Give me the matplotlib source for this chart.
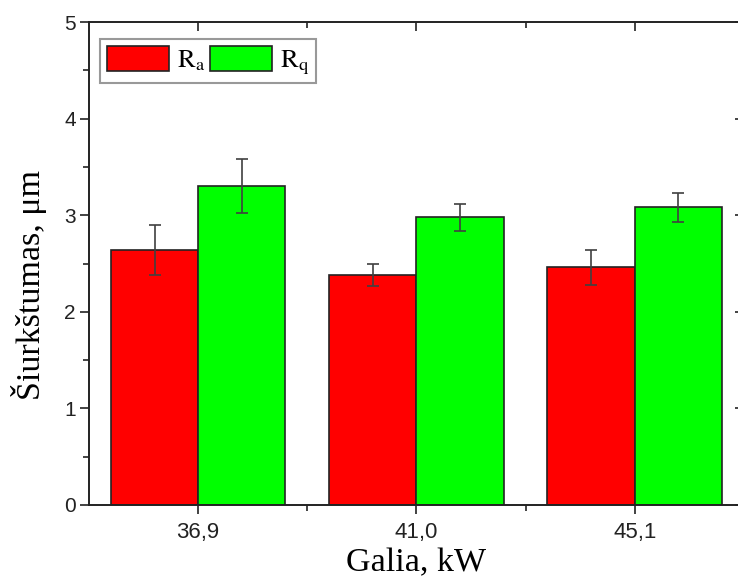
import numpy as np
import matplotlib
matplotlib.use('Agg')
import matplotlib.pyplot as plt
from matplotlib.ticker import MultipleLocator, FixedLocator

# surface roughness vs. laser power
power = ['36,9', '41,0', '45,1']
ra = [2.64, 2.38, 2.46]
ra_err = [0.26, 0.11, 0.18]
rq = [3.30, 2.98, 3.08]
rq_err = [0.28, 0.14, 0.15]

plt.rcParams['mathtext.fontset'] = 'stix'

fig = plt.figure(figsize=(7.38, 5.87), dpi=100)
ax = fig.add_axes([0.1206, 0.1397, 0.8875, 0.8228])

x = np.arange(len(power))
w = 0.4
err_kw = dict(ecolor='#404040', elinewidth=1.2, capsize=4, capthick=1.2)
b1 = ax.bar(x - w/2, ra, w, yerr=ra_err, color='#ff0000', edgecolor='#222222',
            linewidth=1.2, error_kw=err_kw, label=r'$\mathrm{R_a}$')
b2 = ax.bar(x + w/2, rq, w, yerr=rq_err, color='#00ff00', edgecolor='#222222',
            linewidth=1.2, error_kw=err_kw, label=r'$\mathrm{R_q}$')

ax.set_xlim(-0.5, 2.5)
ax.set_ylim(0, 5)
ax.set_xticks(x)
ax.set_xticklabels(power, family='Liberation Sans', fontsize=16)
ax.xaxis.set_minor_locator(FixedLocator([0.5, 1.5]))
ax.yaxis.set_major_locator(MultipleLocator(1))
ax.yaxis.set_minor_locator(MultipleLocator(0.5))
for lab in ax.get_yticklabels():
    lab.set_family('Liberation Sans')
    lab.set_fontsize(15)

ax.tick_params(which='both', top=True, right=True, width=1.2, colors='#222222')
ax.tick_params(which='major', length=6.5)
ax.tick_params(which='minor', length=4)
ax.tick_params(axis='x', which='both', direction='out', pad=6)
ax.tick_params(axis='y', which='both', direction='out', pad=3)
for t in ax.xaxis.get_major_ticks() + ax.xaxis.get_minor_ticks():
    t.tick2line.set_marker(3)  # inward on top
for t in ax.yaxis.get_major_ticks() + ax.yaxis.get_minor_ticks():
    t.tick2line.set_marker(0)  # inward on right
for s in ax.spines.values():
    s.set_linewidth(1.4)
    s.set_color('#222222')
ax.spines['right'].set_visible(False)

ax.set_xlabel('Galia, kW', family='Liberation Serif', fontsize=24.5, labelpad=3)
ax.set_ylabel('Šiurkštumas, μm', family='Liberation Serif', fontsize=24.5)
ax.yaxis.set_label_coords(-0.064, 0.455)

leg = ax.legend(loc='upper left', bbox_to_anchor=(0.017, 0.965), borderaxespad=0,
                ncol=2, fontsize=19, handlelength=2.35, handleheight=1.1,
                handletextpad=0.3, columnspacing=0.2, borderpad=0.25,
                fancybox=False, edgecolor='#999999', framealpha=1)
leg.get_frame().set_linewidth(1.5)

fig.savefig('out.png', dpi=100)
